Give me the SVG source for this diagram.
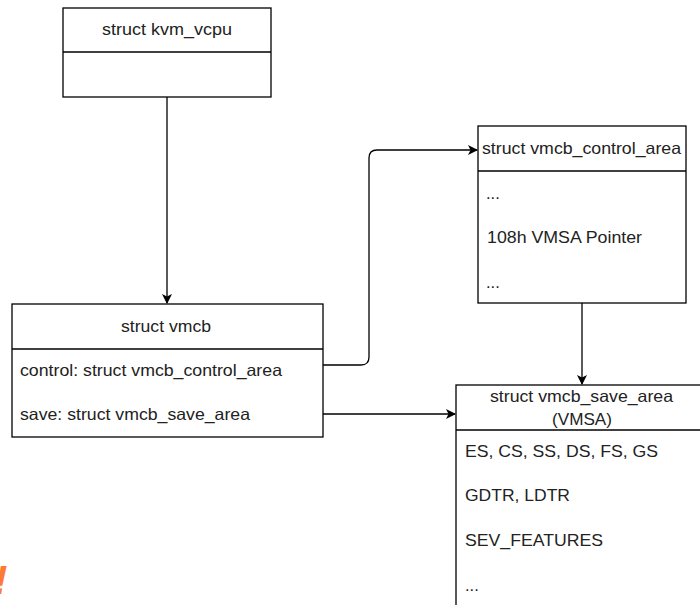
<svg xmlns="http://www.w3.org/2000/svg" width="700" height="605" viewBox="0 0 700 605">
<defs>
<marker id="arr" viewBox="0 0 10 10" refX="9" refY="5" markerWidth="10" markerHeight="10" markerUnits="userSpaceOnUse" orient="auto">
<path d="M0,0 L10,5 L0,10 L2.5,5 Z" fill="#000"/>
</marker>
<style>
.box{fill:#fff;stroke:#000;stroke-width:1.3}
.ln{fill:none;stroke:#000;stroke-width:1.3}
.t{font-family:"Liberation Sans",Arial,sans-serif;font-size:16.5px;fill:#222}
.c{text-anchor:middle}
.e{fill:none;stroke:#000;stroke-width:1.3}
</style>
</defs>
<rect width="700" height="605" fill="#fff"/>
<g id="connectors">
<path class="e" d="M167,97 L167,303" marker-end="url(#arr)"/>
<path class="e" d="M323,365 L361,365 Q369,365 369,357 L369,158 Q369,150 377,150 L477,150" marker-end="url(#arr)"/>
<path class="e" d="M323,414 L455,414" marker-end="url(#arr)"/>
<path class="e" d="M582,260 L582,384" marker-end="url(#arr)"/>
</g>
<g id="kvm_vcpu">
<rect class="box" x="63" y="8" width="208" height="89"/>
<line class="ln" x1="63" y1="52" x2="271" y2="52"/>
<text class="t" x="102" y="35" textLength="130" lengthAdjust="spacingAndGlyphs">struct kvm_vcpu</text>
</g>
<g id="vmcb">
<rect class="box" x="12" y="304" width="311" height="133"/>
<line class="ln" x1="12" y1="349" x2="323" y2="349"/>
<text class="t" x="121" y="332" textLength="90" lengthAdjust="spacingAndGlyphs">struct vmcb</text>
<text class="t" x="20" y="376" textLength="262" lengthAdjust="spacingAndGlyphs">control: struct vmcb_control_area</text>
<text class="t" x="20" y="420" textLength="230" lengthAdjust="spacingAndGlyphs">save: struct vmcb_save_area</text>
</g>
<g id="vmcb_control_area">
<rect class="box" x="478" y="126" width="208" height="177"/>
<line class="ln" x1="478" y1="171" x2="686" y2="171"/>
<text class="t" x="482" y="154" textLength="199" lengthAdjust="spacingAndGlyphs">struct vmcb_control_area</text>
<text class="t" x="486" y="199">...</text>
<text class="t" x="487" y="243" textLength="155" lengthAdjust="spacingAndGlyphs">108h VMSA Pointer</text>
<text class="t" x="486" y="288">...</text>
</g>
<g id="vmcb_save_area">
<rect class="box" x="456" y="385" width="252" height="230"/>
<line class="ln" x1="456" y1="430" x2="708" y2="430"/>
<text class="t" x="490" y="402" textLength="183" lengthAdjust="spacingAndGlyphs">struct vmcb_save_area</text>
<text class="t" x="552" y="425" textLength="60" lengthAdjust="spacingAndGlyphs">(VMSA)</text>
<text class="t" x="465" y="457" textLength="193" lengthAdjust="spacingAndGlyphs">ES, CS, SS, DS, FS, GS</text>
<text class="t" x="465" y="501" textLength="105" lengthAdjust="spacingAndGlyphs">GDTR, LDTR</text>
<text class="t" x="465" y="546" textLength="138" lengthAdjust="spacingAndGlyphs">SEV_FEATURES</text>
<text class="t" x="465" y="591">...</text>
</g>
<text x="-6" y="594" font-family="Liberation Sans,Arial,sans-serif" font-size="40" font-weight="bold" font-style="italic" fill="#ff7b35">!</text>
</svg>
